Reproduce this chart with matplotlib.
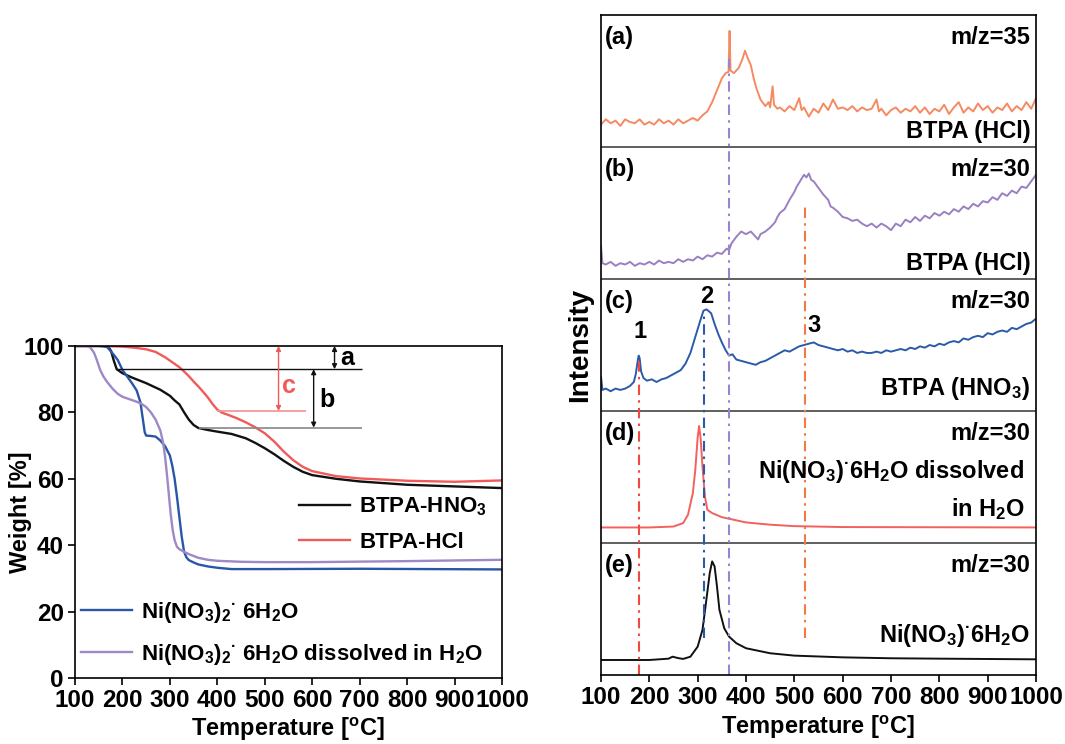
import matplotlib
matplotlib.use("Agg")
import matplotlib.pyplot as plt

plt.rcParams['font.family'] = ['Liberation Sans', 'DejaVu Sans']
plt.rcParams['font.weight'] = 'bold'
plt.rcParams['mathtext.fontset'] = 'custom'
plt.rcParams['mathtext.rm'] = 'Liberation Sans:bold'
plt.rcParams['mathtext.it'] = 'Liberation Sans:bold'
plt.rcParams['mathtext.bf'] = 'Liberation Sans:bold'
plt.rcParams['mathtext.sf'] = 'Liberation Sans:bold'

# ---------------- TGA data (left) ----------------
T_hno3 = [100,150,170,176,182,188,195,200,220,250,280,300,310,320,330,340,350,360,380,400,430,460,480,500,520,540,560,580,600,650,700,800,900,1000]
W_hno3 = [100,100,99.8,98.5,95.5,93.0,92.3,91.8,90.5,88.8,86.8,85.0,83.6,82.4,80.0,77.8,76.2,75.3,74.7,74.2,73.5,72.2,70.8,69.2,67.4,65.4,63.6,62.1,61.1,60.0,59.2,58.2,57.7,57.2]

T_hcl = [100,150,200,230,250,270,290,300,310,320,330,340,350,360,370,380,390,400,410,420,440,460,480,500,520,540,560,580,600,650,700,800,900,1000]
W_hcl = [100,100,99.8,99.4,99.0,98.2,96.6,95.6,94.6,93.6,92.3,90.9,89.3,87.8,86.2,84.5,82.5,80.8,79.9,79.4,78.3,77.0,75.5,73.7,71.2,68.2,65.6,63.6,62.3,60.8,60.1,59.4,59.1,59.5]

T_ni = [100,160,168,175,182,190,200,210,220,230,238,243,247,250,260,270,280,290,300,305,310,315,320,325,330,335,340,350,360,380,400,430,500,700,1000]
W_ni = [100,100,99.6,98.5,97.3,95.8,92.8,90.8,88.8,86.6,83.0,78.0,74.0,73.0,72.9,72.7,71.5,69.8,67.0,64.0,60.0,54.5,48.5,42.5,38.0,36.3,35.5,34.8,34.2,33.6,33.2,32.8,32.8,32.9,32.7]

T_niw = [100,125,132,140,146,153,160,167,180,190,200,210,220,230,240,250,260,270,280,286,290,294,298,302,306,310,315,320,330,340,360,380,400,450,500,600,800,1000]
W_niw = [100,100,99.6,98.0,95.8,92.8,90.8,89.3,87.0,85.6,84.7,84.2,83.7,83.2,82.6,81.6,80.0,77.8,74.5,70.7,66.5,61.0,55.0,49.0,44.5,41.5,39.5,38.8,38.0,37.3,36.2,35.6,35.3,35.0,34.9,34.9,35.2,35.6]

tga_labels = [r'BTPA-HNO$_3$', 'BTPA-HCl',
              r'Ni(NO$_3$)$_2$$^{·}$ 6H$_2$O',
              r'Ni(NO$_3$)$_2$$^{·}$ 6H$_2$O dissolved in H$_2$O']
tga_colors = ['#111111', '#F05A5A', '#2A56A8', '#9E88C6']

# annotation levels (weight %)
lvl_a = 93.0
lvl_b = 75.4
lvl_c = 80.4

# ---------------- MS data (right), intensity in a.u. per panel ----------------
T_a = [100,110,120,130,140,150,160,170,180,190,200,210,220,230,240,250,260,270,280,290,300,310,320,330,340,350,358,364,366,368,375,385,392,398,404,410,416,422,430,440,447,450,455,458,465,470,480,490,500,510,515,520,530,540,550,560,570,580,590,600,610,620,630,640,650,660,670,675,680,690,700,710,720,730,740,750,760,770,780,790,800,810,820,830,840,850,860,870,880,890,900,910,920,930,940,950,960,970,980,990,1000]
I_a = [0.17,0.21,0.18,0.20,0.16,0.21,0.19,0.18,0.21,0.17,0.19,0.17,0.21,0.18,0.20,0.17,0.21,0.18,0.20,0.22,0.20,0.24,0.27,0.34,0.43,0.52,0.56,0.57,0.88,0.58,0.56,0.60,0.66,0.73,0.67,0.62,0.52,0.44,0.36,0.31,0.34,0.30,0.46,0.32,0.29,0.30,0.27,0.31,0.28,0.37,0.28,0.30,0.23,0.29,0.26,0.33,0.28,0.36,0.29,0.30,0.28,0.31,0.27,0.30,0.28,0.29,0.36,0.27,0.29,0.24,0.28,0.30,0.26,0.29,0.27,0.31,0.26,0.30,0.25,0.29,0.27,0.32,0.25,0.30,0.34,0.26,0.30,0.27,0.33,0.28,0.31,0.26,0.30,0.28,0.33,0.27,0.31,0.28,0.34,0.29,0.37]

T_b = [100,103,110,120,130,140,150,160,170,180,190,200,210,220,230,240,250,260,270,280,290,300,310,320,330,340,350,360,365,370,380,390,400,410,420,425,430,440,450,460,465,470,480,490,500,505,510,520,525,530,535,540,550,560,570,575,580,590,600,610,620,630,640,650,660,670,680,690,700,710,720,730,740,750,760,770,780,790,800,810,820,830,840,850,860,870,880,890,900,910,920,930,940,950,960,970,980,990,1000]
I_b = [0.25,0.12,0.11,0.13,0.10,0.12,0.11,0.13,0.10,0.12,0.11,0.13,0.11,0.14,0.12,0.13,0.12,0.15,0.13,0.15,0.14,0.17,0.15,0.18,0.17,0.20,0.19,0.23,0.22,0.27,0.32,0.36,0.34,0.36,0.32,0.30,0.34,0.36,0.39,0.43,0.47,0.50,0.53,0.60,0.66,0.70,0.73,0.79,0.77,0.80,0.75,0.74,0.69,0.64,0.60,0.55,0.54,0.51,0.47,0.46,0.44,0.45,0.42,0.40,0.42,0.39,0.42,0.40,0.37,0.42,0.40,0.45,0.43,0.47,0.44,0.48,0.46,0.50,0.48,0.51,0.49,0.53,0.51,0.55,0.53,0.57,0.55,0.59,0.58,0.62,0.60,0.65,0.63,0.67,0.65,0.70,0.69,0.74,0.79]

T_c = [100,103,110,120,130,140,150,160,168,172,176,178,180,183,188,195,205,215,225,235,245,255,265,275,285,295,305,312,318,322,328,335,343,350,358,365,372,380,390,400,410,420,430,440,450,460,470,480,490,500,510,520,530,540,550,560,570,580,590,600,610,620,630,640,650,660,670,680,690,700,710,720,730,740,750,760,770,780,790,800,810,820,830,840,850,860,870,880,890,900,910,920,930,940,950,960,970,980,990,1000]
I_c = [0.26,0.16,0.17,0.15,0.17,0.16,0.17,0.19,0.22,0.28,0.38,0.42,0.40,0.30,0.25,0.23,0.24,0.22,0.24,0.25,0.27,0.29,0.31,0.36,0.44,0.56,0.68,0.76,0.77,0.76,0.74,0.66,0.58,0.52,0.46,0.42,0.43,0.39,0.38,0.37,0.36,0.35,0.37,0.38,0.40,0.42,0.44,0.46,0.45,0.47,0.49,0.50,0.51,0.52,0.50,0.49,0.48,0.47,0.46,0.47,0.45,0.46,0.44,0.45,0.44,0.44,0.45,0.44,0.46,0.45,0.46,0.47,0.46,0.48,0.47,0.49,0.48,0.50,0.49,0.51,0.50,0.52,0.53,0.52,0.55,0.54,0.56,0.57,0.56,0.59,0.58,0.60,0.61,0.60,0.63,0.62,0.64,0.66,0.67,0.70]

T_d = [100,200,250,270,280,290,295,300,303,306,310,315,320,330,350,400,450,500,600,1000]
I_d = [0.118,0.118,0.125,0.151,0.214,0.378,0.55,0.80,0.887,0.80,0.579,0.353,0.252,0.227,0.196,0.156,0.139,0.128,0.121,0.118]

T_e = [100,200,240,248,260,270,285,300,310,318,325,330,335,340,345,355,365,380,400,450,500,600,700,800,1000]
I_e = [0.114,0.114,0.124,0.139,0.128,0.122,0.139,0.215,0.342,0.57,0.772,0.861,0.823,0.671,0.494,0.354,0.291,0.241,0.203,0.165,0.147,0.134,0.127,0.124,0.119]

ms_series = [(T_a, I_a), (T_b, I_b), (T_c, I_c), (T_d, I_d), (T_e, I_e)]
ms_colors = ['#F58A62', '#9A80C2', '#2C5AAA', '#F2615B', '#111111']
ms_tags = ['(a)', '(b)', '(c)', '(d)', '(e)']
ms_mz = ['m/z=35', 'm/z=30', 'm/z=30', 'm/z=30', 'm/z=30']

# vertical guide lines: temperature, (y_start, y_end) in stacked units, colour
guide_T = [178, 314, 365, 523]
guide_y = [(0.0, 2.42), (0.28, 2.74), (0.0, 4.67), (0.28, 3.55)]
guide_c = ['#EE4A40', '#2C5AAA', '#9A84D0', '#F27A45']

peak_labels = ['1', '2', '3']
peak_T = [180, 318, 541]
peak_y = [2.60, 2.87, 2.65]

xticks = list(range(100, 1001, 100))

# ---------------- figure ----------------
fig = plt.figure(figsize=(10.65, 7.44), dpi=100)
axL = fig.add_axes([0.0704, 0.0887, 0.4010, 0.4463])
axR = fig.add_axes([0.5643, 0.0927, 0.4085, 0.8871])

lw = 1.7
for (T, W), lab, col in zip([(T_hno3, W_hno3), (T_hcl, W_hcl), (T_ni, W_ni), (T_niw, W_niw)], tga_labels, tga_colors):
    axL.plot(T, W, color=col, lw=lw, label=lab)

TICK_FS = 17.5
axL.set_xlim(100, 1000)
axL.set_ylim(0, 100)
axL.set_xticks(xticks)
axL.set_yticks(range(0, 101, 20))
axL.tick_params(labelsize=TICK_FS, width=1.2, length=5, direction='out', pad=3)
axL.set_xlabel(r'Temperature [$^{o}$C]', fontsize=17, fontweight='bold', labelpad=3)
axL.set_ylabel('Weight [%]', fontsize=17, fontweight='bold')
axL.yaxis.set_label_coords(-0.100, 0.5)
for s in axL.spines.values():
    s.set_linewidth(1.2)

# annotation lines
axL.hlines(lvl_a, 188, 705, color='#111111', lw=1.0)
axL.hlines(lvl_b, 362, 705, color='#888888', lw=1.2)
axL.hlines(lvl_c, 400, 587, color='#F59090', lw=1.2)
ap = dict(arrowstyle='<|-|>', mutation_scale=7, lw=1.0, shrinkA=0, shrinkB=0)
axL.annotate('', xy=(647, 100), xytext=(647, lvl_a), arrowprops=dict(ap, color='#111111'))
axL.annotate('', xy=(603, lvl_a), xytext=(603, lvl_b), arrowprops=dict(ap, color='#111111'))
axL.annotate('', xy=(529, 100), xytext=(529, lvl_c), arrowprops=dict(ap, color='#F05A5A'))
axL.text(658, 96.5, 'a', fontsize=18, fontweight='bold', va='center', ha='left')
axL.text(615, 83.8, 'b', fontsize=18, fontweight='bold', va='center', ha='left')
axL.text(536, 88.0, 'c', fontsize=18, fontweight='bold', va='center', ha='left', color='#F05A5A')

h, l = axL.get_legend_handles_labels()
leg1 = axL.legend(h[:2], l[:2], loc='center left', bbox_to_anchor=(0.525, 0.463), frameon=False,
                  fontsize=16, handlelength=2.3, handletextpad=0.4, labelspacing=0.6, borderpad=0,
                  borderaxespad=0)
axL.add_artist(leg1)
axL.legend(h[2:], l[2:], loc='center left', bbox_to_anchor=(0.015, 0.135), frameon=False,
           fontsize=16, handlelength=2.3, handletextpad=0.4, labelspacing=0.75, borderpad=0,
           borderaxespad=0)

# ---------------- right stacked MS ----------------
TXT_FS = 17
n = len(ms_series)
for i, ((T, I), col) in enumerate(zip(ms_series, ms_colors)):
    off = n - 1 - i
    axR.plot(T, [v + off for v in I], color=col, lw=1.4)
    axR.text(108, off + 0.83, ms_tags[i], fontsize=TXT_FS, fontweight='bold', va='center', ha='left')
    axR.text(988, off + 0.83, ms_mz[i], fontsize=TXT_FS, fontweight='bold', va='center', ha='right')

for k in range(1, n):
    axR.axhline(k, color='#444444', lw=1.2)

sub_T = 988
axR.text(sub_T, 4.12, 'BTPA (HCl)', fontsize=TXT_FS, fontweight='bold', va='center', ha='right')
axR.text(sub_T, 3.12, 'BTPA (HCl)', fontsize=TXT_FS, fontweight='bold', va='center', ha='right')
axR.text(sub_T, 2.17, r'BTPA (HNO$_3$)', fontsize=TXT_FS, fontweight='bold', va='center', ha='right')
axR.text(975, 1.54, r'Ni(NO$_3$)$^{·}$6H$_2$O dissolved', fontsize=TXT_FS, fontweight='bold', va='center', ha='right')
axR.text(977, 1.26, r'in H$_2$O', fontsize=TXT_FS, fontweight='bold', va='center', ha='right')
axR.text(988, 0.30, r'Ni(NO$_3$)$^{·}$6H$_2$O', fontsize=TXT_FS, fontweight='bold', va='center', ha='right')

for t, (y0, y1), c in zip(guide_T, guide_y, guide_c):
    axR.vlines(t, y0, y1, color=c, lw=1.5, linestyles=[(0, (5, 2.5, 1.2, 2.5))])

for lab, t, y in zip(peak_labels, peak_T, peak_y):
    axR.text(t, y, lab, fontsize=TXT_FS, fontweight='bold', ha='center', va='center')

axR.set_xlim(100, 1000)
axR.set_ylim(0, n)
axR.set_xticks(xticks)
axR.set_yticks([])
axR.tick_params(labelsize=TICK_FS, width=1.2, length=5, direction='out', pad=3)
axR.set_xlabel(r'Temperature [$^{o}$C]', fontsize=17, fontweight='bold', labelpad=3)
axR.set_ylabel('Intensity', fontsize=20, fontweight='bold', labelpad=6)
for s in axR.spines.values():
    s.set_linewidth(1.2)

fig.savefig('out.png', dpi=100)
